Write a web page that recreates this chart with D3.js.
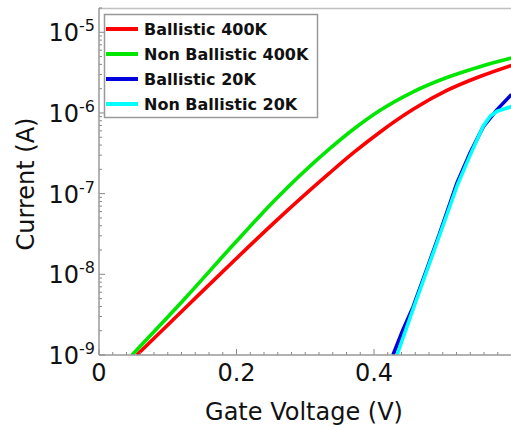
<!DOCTYPE html>
<html>
<head>
<meta charset="utf-8">
<script src="https://cdn.jsdelivr.net/npm/d3@7"></script>
<style>
  html, body { margin: 0; padding: 0; background: #fff; }
  svg { display: block; font-family: "DejaVu Sans", sans-serif; }
</style>
</head>
<body>
<svg id="chart" width="511" height="427"></svg>
<script>
// Gate voltage (V) and drain current (A) for each transport model / temperature
const ballistic400V = [0.055, 0.125, 0.199, 0.256, 0.336, 0.372, 0.409, 0.457, 0.506, 0.554, 0.600];
const ballistic400I = [1.0e-9, 3.80e-9, 1.55e-8, 4.47e-8, 1.82e-7, 3.31e-7, 5.82e-7, 1.11e-6, 1.90e-6, 2.83e-6, 3.89e-6];

const nonBallistic400V = [0.048, 0.125, 0.199, 0.256, 0.336, 0.372, 0.409, 0.457, 0.506, 0.554, 0.600];
const nonBallistic400I = [1.0e-9, 5.01e-9, 2.51e-8, 8.32e-8, 3.63e-7, 6.46e-7, 1.08e-6, 1.83e-6, 2.75e-6, 3.75e-6, 4.79e-6];

const ballistic20V = [0.4276, 0.442, 0.457, 0.477, 0.496, 0.521, 0.540, 0.559, 0.579, 0.600];
const ballistic20I = [1.0e-9, 2.04e-9, 3.98e-9, 1.17e-8, 3.31e-8, 1.38e-7, 3.24e-7, 6.76e-7, 1.10e-6, 1.70e-6];

const nonBallistic20V = [0.4335, 0.457, 0.496, 0.521, 0.540, 0.559, 0.569, 0.579, 0.600];
const nonBallistic20I = [1.0e-9, 3.72e-9, 3.16e-8, 1.26e-7, 3.02e-7, 6.92e-7, 9.12e-7, 1.05e-6, 1.20e-6];

const seriesNames = ["Ballistic 400K", "Non Ballistic 400K", "Ballistic 20K", "Non Ballistic 20K"];
const seriesColors = ["#ff0000", "#00e600", "#0000dd", "#00ffff"];

const xTickValues = [0, 0.2, 0.4];
const yTickExponents = [-9, -8, -7, -6, -5];

const xTitle = "Gate Voltage (V)";
const yTitle = "Current (A)";

const series = [
  { name: seriesNames[0], color: seriesColors[0], v: ballistic400V, i: ballistic400I, curve: d3.curveMonotoneX },
  { name: seriesNames[1], color: seriesColors[1], v: nonBallistic400V, i: nonBallistic400I, curve: d3.curveMonotoneX },
  { name: seriesNames[2], color: seriesColors[2], v: ballistic20V, i: ballistic20I, curve: d3.curveLinear },
  { name: seriesNames[3], color: seriesColors[3], v: nonBallistic20V, i: nonBallistic20I, curve: d3.curveLinear }
];

const svg = d3.select("#chart");
const plot = { left: 99, right: 511.5, top: 8, bottom: 355 };

const x = d3.scaleLinear().domain([0, 0.6]).range([plot.left, plot.right]);
const y = d3.scaleLog().domain([1e-9, 2e-5]).range([plot.bottom, plot.top]);

svg.append("defs").append("clipPath").attr("id", "plot-clip")
  .append("rect")
  .attr("x", plot.left).attr("y", plot.top)
  .attr("width", plot.right - plot.left).attr("height", plot.bottom - plot.top);

// frame: top edge light, left/bottom axes darker
svg.append("line")
  .attr("x1", plot.left).attr("x2", plot.right)
  .attr("y1", plot.top + 0.5).attr("y2", plot.top + 0.5)
  .attr("stroke", "#c0c0c0").attr("stroke-width", 1.5);

// curves
const g = svg.append("g").attr("clip-path", "url(#plot-clip)");
series.forEach(s => {
  const pts = s.v.map((v, k) => [v, s.i[k]]);
  g.append("path")
    .datum(pts)
    .attr("fill", "none")
    .attr("stroke", s.color)
    .attr("stroke-width", 3.6)
    .attr("stroke-linejoin", "round")
    .attr("d", d3.line().x(d => x(d[0])).y(d => y(d[1])).curve(s.curve));
});

// x axis: minor ticks every 0.02, major every 0.2, drawn inward
const xAxis = svg.append("g");
const minorX = d3.range(0, 0.6001, 0.02);
xAxis.selectAll("line.minor").data(minorX).join("line")
  .attr("x1", d => x(d)).attr("x2", d => x(d))
  .attr("y1", plot.bottom).attr("y2", d => {
    const major = Math.abs(d / 0.2 - Math.round(d / 0.2)) < 1e-6;
    return plot.bottom - (major ? 6 : 3);
  })
  .attr("stroke", "#888").attr("stroke-width", 1);
xAxis.selectAll("text").data(xTickValues).join("text")
  .attr("x", d => x(d)).attr("y", 381)
  .attr("text-anchor", "middle")
  .attr("font-size", 24).attr("fill", "#111")
  .text(d => d === 0 ? "0" : d3.format(".1f")(d));
xAxis.append("line")
  .attr("x1", plot.left).attr("x2", plot.right)
  .attr("y1", plot.bottom).attr("y2", plot.bottom)
  .attr("stroke", "#999").attr("stroke-width", 1.5);

// y axis: decades with minor ticks at 2..9
const yAxis = svg.append("g");
const minorY = [];
for (let e = -9; e <= -5; e++) {
  for (let m = 1; m <= 9; m++) {
    const val = m * Math.pow(10, e);
    if (val <= 2e-5 * 1.0001) minorY.push({ val, major: m === 1 });
  }
}
yAxis.selectAll("line.tick").data(minorY).join("line")
  .attr("x1", plot.left).attr("x2", d => plot.left + (d.major ? 6 : 3))
  .attr("y1", d => y(d.val)).attr("y2", d => y(d.val))
  .attr("stroke", "#888").attr("stroke-width", 1);
const yLabels = yAxis.selectAll("text").data(yTickExponents).join("text")
  .attr("x", 95).attr("y", d => y(Math.pow(10, d)) + 9)
  .attr("text-anchor", "end")
  .attr("fill", "#111");
yLabels.append("tspan").attr("font-size", 24).text("10");
yLabels.append("tspan").attr("font-size", 16).attr("dy", -10).text(d => "-" + Math.abs(d));
yAxis.append("line")
  .attr("x1", plot.left).attr("x2", plot.left)
  .attr("y1", plot.top).attr("y2", plot.bottom)
  .attr("stroke", "#999").attr("stroke-width", 1.5);

// axis titles
svg.append("text")
  .attr("x", 304).attr("y", 420)
  .attr("text-anchor", "middle")
  .attr("font-size", 24).attr("fill", "#111")
  .text(xTitle);
svg.append("text")
  .attr("transform", "translate(34,184) rotate(-90)")
  .attr("text-anchor", "middle")
  .attr("font-size", 24).attr("fill", "#111")
  .text(yTitle);

// legend
const legend = svg.append("g");
legend.append("rect")
  .attr("x", 104.5).attr("y", 14.5).attr("width", 213).attr("height", 103)
  .attr("fill", "#fff").attr("stroke", "#999").attr("stroke-width", 1.5);
series.forEach((s, k) => {
  const cy = 29 + k * 25;
  legend.append("line")
    .attr("x1", 106).attr("x2", 138)
    .attr("y1", cy).attr("y2", cy)
    .attr("stroke", s.color).attr("stroke-width", 4);
  legend.append("text")
    .attr("x", 144).attr("y", cy + 5.5)
    .attr("font-size", 16).attr("font-weight", "bold").attr("fill", "#111")
    .text(s.name);
});
</script>
</body>
</html>
